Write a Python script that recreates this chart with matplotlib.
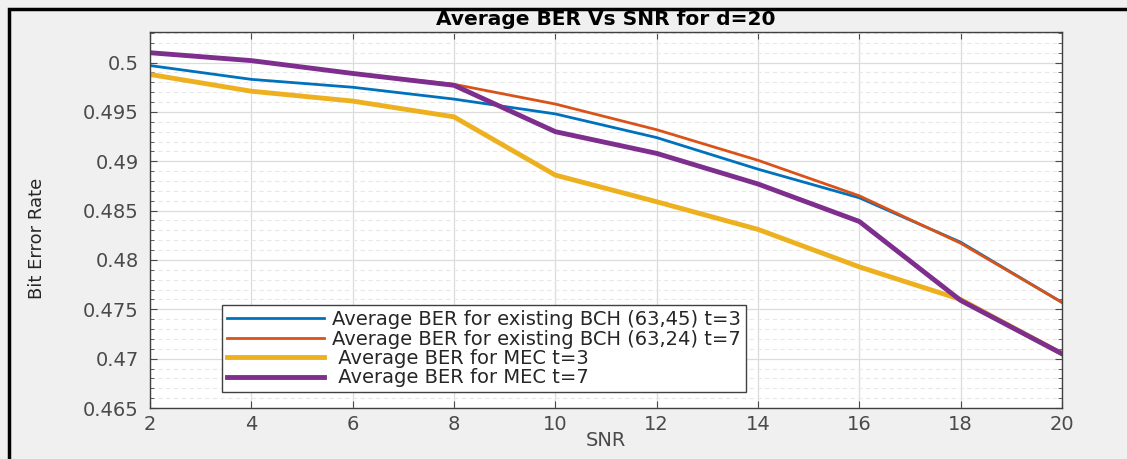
import numpy as np
import matplotlib.pyplot as plt
from matplotlib.patches import Rectangle
from matplotlib.ticker import MultipleLocator

snr = [2, 4, 6, 8, 10, 12, 14, 16, 18, 20]
ber_bch_t3 = [0.4997, 0.4983, 0.4975, 0.4963, 0.4948, 0.4924, 0.4892, 0.4863, 0.4818, 0.4757]
ber_bch_t7 = [0.5010, 0.5002, 0.4989, 0.4978, 0.4958, 0.4932, 0.4901, 0.4865, 0.4817, 0.4757]
ber_mec_t3 = [0.4988, 0.4971, 0.4961, 0.4945, 0.4886, 0.4859, 0.4831, 0.4793, 0.4760, 0.4705]
ber_mec_t7 = [0.5010, 0.5002, 0.4989, 0.4977, 0.4930, 0.4908, 0.4877, 0.4839, 0.4759, 0.4705]

labels = ['Average BER for existing BCH (63,45) t=3',
          'Average BER for existing BCH (63,24) t=7',
          ' Average BER for MEC t=3',
          ' Average BER for MEC t=7']
yticks = [0.465, 0.47, 0.475, 0.48, 0.485, 0.49, 0.495, 0.5]
ytick_labels = ['0.465', '0.47', '0.475', '0.48', '0.485', '0.49', '0.495', '0.5']

plt.rcParams['font.family'] = ['DejaVu Sans']

fig = plt.figure(figsize=(11.27, 4.59), dpi=100, facecolor='#f0f0f0')
ax = fig.add_axes([0.1331, 0.1111, 0.8092, 0.8192])
ax.set_facecolor('white')

ax.plot(snr, ber_bch_t3, color='#0072BD', lw=2.0, label=labels[0])
ax.plot(snr, ber_bch_t7, color='#D95319', lw=2.0, label=labels[1])
ax.plot(snr, ber_mec_t3, color='#EDB120', lw=3.5, label=labels[2])
ax.plot(snr, ber_mec_t7, color='#7E2F8E', lw=3.5, label=labels[3])

ax.set_xlim(2, 20)
ax.set_ylim(0.465, 0.5031)
ax.xaxis.set_major_locator(MultipleLocator(2))
ax.yaxis.set_minor_locator(MultipleLocator(0.001))
ax.set_yticks(yticks)
ax.set_yticklabels(ytick_labels)

ax.grid(True, which='major', color='#dcdcdc', lw=0.9)
ax.grid(True, which='minor', axis='y', color='#e8e8e8', lw=0.8, ls=(0, (4, 3)))
ax.set_axisbelow(True)
ax.tick_params(which='both', direction='in', top=True, right=True, colors='#4a4a4a',
               labelsize=14, length=5)
ax.tick_params(which='minor', length=3)
ax.tick_params(axis='x', pad=5)
ax.tick_params(axis='y', pad=8)
for s in ax.spines.values():
    s.set_color('#404040')
    s.set_linewidth(1.0)

ax.set_title('Average BER Vs SNR for d=20', fontsize=14.5, fontweight='bold', pad=5)
ax.set_xlabel('SNR', fontsize=14, color='#4a4a4a', labelpad=-2)
ax.set_ylabel('Bit Error Rate', fontsize=13, color='#262626')
ax.yaxis.set_label_coords(-0.114, 0.45)

leg = ax.legend(loc='lower left', bbox_to_anchor=(0.079, 0.042), fontsize=14,
                frameon=True, fancybox=False, edgecolor='#404040', framealpha=1,
                handlelength=5.0, handletextpad=0.4, borderpad=0.25, labelspacing=0.02,
                borderaxespad=0)
leg.get_frame().set_linewidth(1.0)
for t in leg.get_texts():
    t.set_color('#262626')

fig.patches.append(Rectangle((9 / 1127, -0.05), 1.2, 1 - 9 / 459 + 0.05, transform=fig.transFigure,
                             fill=False, edgecolor='black', lw=2.5))

fig.savefig('out.png', dpi=100, facecolor=fig.get_facecolor())
